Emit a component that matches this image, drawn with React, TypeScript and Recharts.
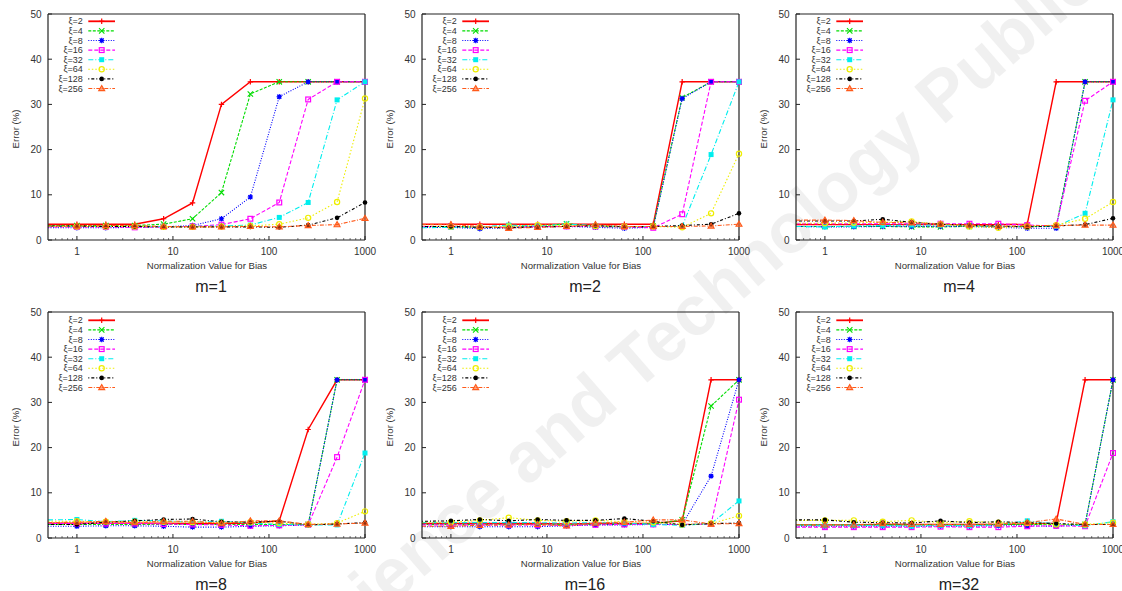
import React from 'react';
import { LineChart, Line, XAxis, YAxis } from 'recharts';

const xValues = [0.5, 1, 2, 4, 8, 16, 32, 64, 128, 256, 512, 1000];
const xiLabels = ['ξ=2', 'ξ=4', 'ξ=8', 'ξ=16', 'ξ=32', 'ξ=64', 'ξ=128', 'ξ=256'];
const seriesColors = ['#ff0000', '#00dd00', '#0000ff', '#ff00ff', '#00eeee', '#eeee00', '#000000', '#ff5a1a'];
const seriesDash = ['', '3 1.5', '1 1.5', '4 2', '5 2 1 2', '1.5 2', '1 2 3 2', '4 1.5 1 1.5'];
const panelTitles = ['m=1', 'm=2', 'm=4', 'm=8', 'm=16', 'm=32'];
const majorXTicks = [1, 10, 100, 1000];
const minorXTicks = [0.6, 0.7, 0.8, 0.9, 2, 3, 4, 5, 6, 7, 8, 9, 20, 30, 40, 50, 60, 70, 80, 90, 200, 300, 400, 500, 600, 700, 800, 900];
const yTicks = [0, 10, 20, 30, 40, 50];

const m1Values = [
  [3.5, 3.5, 3.5, 3.5, 4.7, 8.2, 30.0, 35, 35, 35, 35, 35],
  [3.2, 3.2, 3.2, 3.2, 3.5, 4.7, 10.5, 32.3, 35, 35, 35, 35],
  [2.7, 2.7, 2.7, 2.8, 2.9, 3.2, 4.7, 9.5, 31.7, 35, 35, 35],
  [2.9, 2.9, 2.9, 2.8, 2.9, 3.0, 3.4, 4.7, 8.3, 31.1, 35, 35],
  [3.0, 3.0, 3.0, 3.0, 3.0, 3.0, 3.1, 3.3, 5.0, 8.3, 31.0, 35],
  [3.0, 3.0, 3.0, 3.0, 2.9, 2.9, 3.0, 3.1, 3.5, 4.9, 8.4, 31.3],
  [3.1, 3.1, 3.0, 3.0, 2.9, 2.9, 2.9, 2.9, 2.8, 3.3, 4.9, 8.3],
  [3.1, 3.1, 3.2, 3.2, 3.0, 2.9, 2.9, 3.0, 2.9, 3.2, 3.4, 4.8],
];
const m2Values = [
  [3.5, 3.5, 3.5, 3.5, 3.5, 3.5, 3.5, 3.5, 3.5, 35, 35, 35],
  [3.0, 3.0, 2.8, 2.9, 3.0, 3.6, 3.0, 2.9, 3.0, 31.5, 35, 35],
  [2.8, 2.8, 2.5, 2.7, 2.9, 3.0, 2.8, 2.6, 2.8, 31.3, 35, 35],
  [3.0, 3.0, 2.9, 2.8, 3.0, 3.0, 3.0, 2.9, 2.7, 5.7, 35, 35],
  [2.7, 2.8, 2.9, 3.3, 3.1, 3.5, 3.2, 3.0, 3.0, 3.0, 18.9, 35],
  [3.0, 3.0, 2.9, 3.0, 3.3, 3.2, 3.1, 3.0, 3.0, 2.8, 5.9, 19.1],
  [3.0, 3.0, 2.8, 2.7, 2.9, 3.0, 3.2, 2.9, 3.0, 3.2, 3.5, 5.9],
  [3.4, 3.4, 3.0, 2.6, 2.8, 3.0, 3.4, 3.0, 3.0, 3.0, 3.1, 3.5],
];
const m4Values = [
  [3.4, 3.4, 3.4, 3.4, 3.4, 3.4, 3.4, 3.4, 3.5, 35, 35, 35],
  [3.0, 3.0, 3.0, 3.0, 2.9, 2.9, 3.0, 3.0, 3.0, 3.0, 35, 35],
  [3.0, 2.9, 2.9, 3.0, 3.0, 3.0, 3.0, 2.8, 2.6, 2.6, 35, 35],
  [3.6, 3.6, 3.6, 3.6, 3.6, 3.6, 3.6, 3.6, 3.3, 3.1, 30.8, 35],
  [3.0, 2.9, 3.1, 3.2, 3.3, 3.3, 3.2, 3.0, 3.0, 3.0, 5.9, 31.0],
  [3.7, 3.7, 3.8, 3.9, 4.1, 3.5, 3.0, 2.7, 3.0, 3.3, 4.7, 8.4],
  [4.2, 4.2, 4.2, 4.6, 3.9, 3.5, 3.3, 3.1, 2.9, 3.1, 3.4, 4.8],
  [4.4, 4.4, 4.3, 3.9, 3.8, 3.5, 3.3, 3.0, 3.2, 3.2, 3.3, 3.3],
];
const m8Values = [
  [3.3, 3.3, 3.3, 3.3, 3.3, 3.2, 3.2, 3.3, 3.8, 24.0, 35, 35],
  [3.0, 3.0, 3.0, 3.0, 3.0, 3.0, 3.0, 3.0, 3.0, 3.0, 35, 35],
  [2.6, 2.6, 2.7, 2.7, 2.6, 2.4, 2.4, 2.6, 2.7, 2.9, 35, 35],
  [3.2, 3.2, 3.2, 3.2, 3.1, 3.0, 2.9, 2.7, 2.8, 2.9, 17.9, 35],
  [4.0, 4.1, 3.6, 3.9, 3.8, 3.5, 3.7, 3.3, 3.0, 2.9, 2.9, 18.8],
  [3.7, 3.7, 3.6, 3.6, 3.6, 3.5, 3.4, 3.5, 3.3, 3.0, 3.3, 5.9],
  [3.0, 3.0, 3.5, 3.8, 4.1, 4.2, 3.6, 3.5, 3.7, 2.9, 3.1, 3.4],
  [3.4, 3.5, 3.7, 3.4, 3.7, 3.7, 3.2, 3.8, 3.8, 3.0, 3.1, 3.3],
];
const m16Values = [
  [3.2, 3.2, 3.2, 3.2, 3.2, 3.1, 3.2, 3.2, 3.3, 3.8, 35, 35],
  [3.0, 3.0, 3.0, 3.0, 3.0, 3.0, 3.0, 3.0, 3.1, 4.0, 29.2, 35],
  [2.5, 2.5, 2.5, 2.5, 2.5, 2.7, 2.9, 2.9, 3.0, 3.0, 13.7, 35],
  [2.9, 2.9, 2.9, 2.9, 2.9, 2.8, 2.9, 3.0, 3.0, 3.0, 3.1, 30.6],
  [3.4, 3.4, 3.4, 3.4, 3.4, 3.3, 3.4, 3.3, 3.0, 2.8, 3.2, 8.2],
  [3.5, 3.5, 3.9, 4.5, 3.9, 3.7, 3.9, 3.6, 3.5, 3.0, 3.2, 4.9],
  [3.7, 3.8, 4.1, 3.8, 4.1, 3.9, 3.9, 4.3, 3.7, 2.9, 3.2, 3.3],
  [2.6, 2.6, 2.8, 2.9, 3.0, 2.7, 3.3, 3.5, 4.0, 4.0, 3.1, 3.2],
];
const m32Values = [
  [2.9, 2.9, 2.9, 3.0, 3.0, 3.0, 3.0, 3.0, 3.1, 3.3, 35, 35],
  [2.9, 2.9, 2.9, 2.9, 2.9, 2.9, 2.9, 3.0, 3.0, 3.0, 3.0, 35],
  [2.6, 2.6, 2.6, 2.6, 2.6, 2.6, 2.6, 2.7, 2.7, 2.6, 2.9, 35],
  [2.4, 2.4, 2.4, 2.4, 2.4, 2.5, 2.4, 2.4, 2.6, 2.7, 2.6, 18.8],
  [2.8, 2.8, 2.8, 2.8, 2.6, 2.8, 2.7, 2.9, 3.8, 3.1, 2.7, 3.6],
  [3.9, 3.9, 3.9, 3.6, 3.9, 3.4, 3.7, 3.4, 3.3, 3.0, 3.0, 3.4],
  [4.0, 4.0, 3.5, 3.4, 3.3, 3.8, 3.4, 3.6, 3.4, 3.2, 3.0, 3.0],
  [2.9, 2.9, 2.9, 3.2, 3.0, 3.0, 3.0, 3.1, 3.4, 4.2, 3.0, 3.0],
];

const panelValues = [m1Values, m2Values, m4Values, m8Values, m16Values, m32Values];

const FONT = '"Liberation Sans", Arial, Helvetica, sans-serif';
const AXIS = '#222';
const TEXT = '#333';

function buildRows(values: number[][]) {
  return xValues.map((x, i) => {
    const row: any = { x };
    values.forEach((s, k) => {
      row['s' + k] = s[i];
    });
    return row;
  });
}

function markerShape(shape: number, cx: number, cy: number, color: string, key?: any) {
  const s = 2.7;
  switch (shape) {
    case 0:
      return <path key={key} d={`M${cx - s},${cy}H${cx + s}M${cx},${cy - s}V${cy + s}`} stroke={color} strokeWidth={1.2} fill="none" />;
    case 1:
      return <path key={key} d={`M${cx - s},${cy - s}L${cx + s},${cy + s}M${cx - s},${cy + s}L${cx + s},${cy - s}`} stroke={color} strokeWidth={1.1} fill="none" />;
    case 2:
      return (
        <g key={key}>
          <path d={`M${cx - s},${cy}H${cx + s}M${cx},${cy - s}V${cy + s}M${cx - s * 0.75},${cy - s * 0.75}L${cx + s * 0.75},${cy + s * 0.75}M${cx - s * 0.75},${cy + s * 0.75}L${cx + s * 0.75},${cy - s * 0.75}`} stroke={color} strokeWidth={1.1} fill="none" />
          <rect x={cx - 1.7} y={cy - 1.7} width={3.4} height={3.4} fill={color} />
        </g>
      );
    case 3:
      return <rect key={key} x={cx - 2.4} y={cy - 2.4} width={4.8} height={4.8} stroke={color} strokeWidth={1.2} fill="none" />;
    case 4:
      return <rect key={key} x={cx - 2.5} y={cy - 2.5} width={5} height={5} fill={color} />;
    case 5:
      return <circle key={key} cx={cx} cy={cy} r={2.6} stroke={color} strokeWidth={1.2} fill="none" />;
    case 6:
      return <circle key={key} cx={cx} cy={cy} r={2.3} fill={color} />;
    default:
      return <path key={key} d={`M${cx},${cy - 3}L${cx + 3},${cy + 2.1}L${cx - 3},${cy + 2.1}Z`} stroke={color} strokeWidth={1.1} fill={color} fillOpacity={0.55} />;
  }
}

const BottomTick = (props: any) => {
  const { x, y, payload } = props;
  const v = payload.value;
  const major = majorXTicks.includes(v);
  return (
    <g>
      <line x1={x} x2={x} y1={y} y2={y - (major ? 4 : 2)} stroke={AXIS} strokeWidth={major ? 1 : 0.6} />
      {major && (
        <text x={x} y={y + 15.3} textAnchor="middle" fontSize={10} fill={TEXT} fontFamily={FONT}>
          {v}
        </text>
      )}
    </g>
  );
};

const TopTick = (props: any) => {
  const { x, y, payload } = props;
  const major = majorXTicks.includes(payload.value);
  return <line x1={x} x2={x} y1={y} y2={y + (major ? 4 : 2)} stroke={AXIS} strokeWidth={major ? 1 : 0.6} />;
};

const LeftTick = (props: any) => {
  const { x, y, payload } = props;
  return (
    <g>
      <line x1={x} x2={x + 4} y1={y} y2={y} stroke={AXIS} strokeWidth={1} />
      <text x={x - 6.5} y={y + 3.6} textAnchor="end" fontSize={10} fill={TEXT} fontFamily={FONT}>
        {payload.value}
      </text>
    </g>
  );
};

const RightTick = (props: any) => {
  const { x, y } = props;
  return <line x1={x} x2={x - 4} y1={y} y2={y} stroke={AXIS} strokeWidth={1} />;
};

function Panel({ index }: { index: number }) {
  const values = panelValues[index];
  const rows = buildRows(values);
  const col = index % 3;
  const row = Math.floor(index / 3);
  const left = col * 374;
  const top = row === 0 ? 0 : 297.7;
  return (
    <div style={{ position: 'absolute', left, top, width: 374, height: 296, overflow: 'visible' }}>
      <LineChart width={374} height={296} data={rows} margin={{ top: 13, right: 8, bottom: 26, left: 8 }} style={{ position: 'absolute', left: 0, top: 0, overflow: 'visible' }}>
        <XAxis
          dataKey="x"
          type="number"
          scale="log"
          domain={[0.5, 1000]}
          ticks={[...majorXTicks, ...minorXTicks]}
          interval={0}
          tick={<BottomTick />}
          tickLine={false}
          tickSize={0}
          tickMargin={0}
          height={30}
          axisLine={{ stroke: AXIS, strokeWidth: 1.2 }}
        />
        <XAxis
          xAxisId="top"
          orientation="top"
          type="number"
          scale="log"
          domain={[0.5, 1000]}
          ticks={[...majorXTicks, ...minorXTicks]}
          interval={0}
          tick={<TopTick />}
          tickLine={false}
          tickSize={0}
          tickMargin={0}
          height={1}
          axisLine={{ stroke: AXIS, strokeWidth: 1.2 }}
        />
        <YAxis
          type="number"
          domain={[0, 50]}
          ticks={yTicks}
          interval={0}
          tick={<LeftTick />}
          tickLine={false}
          tickSize={0}
          tickMargin={0}
          width={40}
          axisLine={{ stroke: AXIS, strokeWidth: 1.2 }}
        />
        <YAxis
          yAxisId="right"
          orientation="right"
          type="number"
          domain={[0, 50]}
          ticks={yTicks}
          interval={0}
          tick={<RightTick />}
          tickLine={false}
          tickSize={0}
          tickMargin={0}
          width={1}
          axisLine={{ stroke: AXIS, strokeWidth: 1.2 }}
        />
        {xiLabels.map((label, k) => (
          <Line
            key={label}
            dataKey={'s' + k}
            name={label}
            type="linear"
            stroke={seriesColors[k]}
            strokeWidth={k === 0 ? 1.4 : 1.1}
            strokeDasharray={seriesDash[k] || undefined}
            isAnimationActive={false}
            activeDot={false}
            dot={(p: any) =>
              p.index === 0 ? <g key={'d' + p.index} /> : markerShape(k, p.cx, p.cy, seriesColors[k], 'd' + p.index)
            }
          />
        ))}
      </LineChart>
      <svg width={374} height={296} style={{ position: 'absolute', left: 0, top: 0, pointerEvents: 'none', overflow: 'visible' }}>
        {xiLabels.map((label, k) => {
          const y = (row === 0 ? 21.3 : 22.3) + 9.6 * k;
          return (
            <g key={label}>
              <text x={82.7} y={y} textAnchor="end" dominantBaseline="central" fontSize={9} fill={TEXT} fontFamily={FONT}>
                {label}
              </text>
              <line x1={88.3} x2={115} y1={y} y2={y} stroke={seriesColors[k]} strokeWidth={k === 0 ? 1.8 : 1.1} strokeDasharray={seriesDash[k] || undefined} />
              {markerShape(k, 101.7, y, seriesColors[k])}
            </g>
          );
        })}
        <text x={207} y={268.5} textAnchor="middle" fontSize={9.6} fill={TEXT} fontFamily={FONT}>
          Normalization Value for Bias
        </text>
        <text x={15} y={129} transform="rotate(-90 15 129)" textAnchor="middle" dominantBaseline="central" fontSize={9.6} fill={TEXT} fontFamily={FONT}>
          Error (%)
        </text>
        <text x={211} y={292} textAnchor="middle" fontSize={16} fill="#222" fontFamily={FONT}>
          {panelTitles[index]}
        </text>
      </svg>
    </div>
  );
}

export default function App() {
  return (
    <div style={{ position: 'absolute', left: 0, top: 0, width: 1122, height: 591, background: '#fff', overflow: 'hidden', fontFamily: FONT }}>
      <style>{'.recharts-surface{overflow:visible !important}.recharts-wrapper{overflow:visible !important}'}</style>
      <svg width={1122} height={591} style={{ position: 'absolute', left: 0, top: 0 }}>
        <text
          x={300}
          y={660}
          transform="rotate(-41 300 660)"
          dominantBaseline="middle"
          fontSize={70}
          fontWeight="bold"
          fill="#000"
          opacity={0.055}
          fontFamily={FONT}
        >
          Science and Technology Publications
        </text>
      </svg>
      {panelTitles.map((t, i) => (
        <Panel key={t} index={i} />
      ))}
    </div>
  );
}
